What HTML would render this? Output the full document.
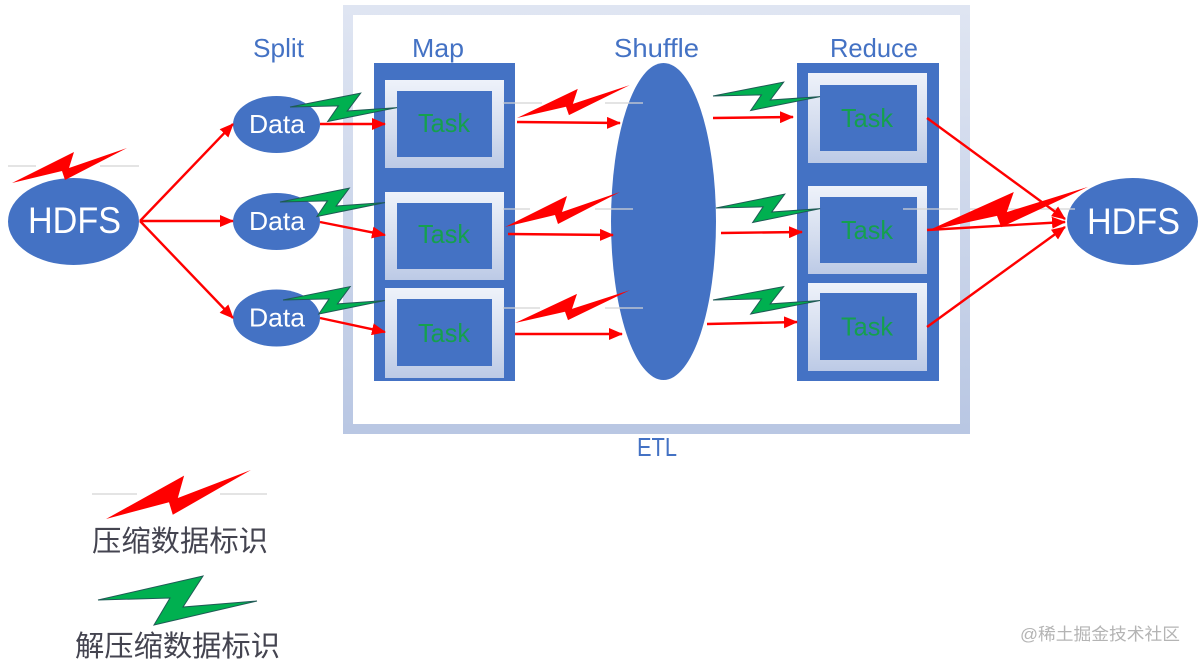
<!DOCTYPE html>
<html><head><meta charset="utf-8"><style>
html,body{margin:0;padding:0;background:#fff;}
svg{display:block;}
</style></head><body>
<svg width="1200" height="664" viewBox="0 0 1200 664" xmlns="http://www.w3.org/2000/svg">
<defs>
<marker id="ah" markerUnits="userSpaceOnUse" markerWidth="14" markerHeight="12" refX="13" refY="6" orient="auto">
<path d="M0,0 L14,6 L0,12 z" fill="#ff0000"/>
</marker>
<linearGradient id="frameG" x1="0" y1="0" x2="0" y2="1">
<stop offset="0" stop-color="#dfe5f2"/><stop offset="1" stop-color="#b9c7e3"/>
</linearGradient>
<linearGradient id="taskG" x1="0" y1="0" x2="0" y2="1">
<stop offset="0" stop-color="#eef2fa"/><stop offset="0.6" stop-color="#d3dcee"/><stop offset="1" stop-color="#bccae6"/>
</linearGradient>
</defs>

<!-- ETL frame -->
<rect x="348" y="10" width="617" height="419" fill="#fff" stroke="url(#frameG)" stroke-width="10"/>

<!-- Map column -->
<rect x="374" y="63" width="141" height="318" fill="#4472c4"/>
<rect x="385" y="80" width="119" height="88" fill="url(#taskG)"/>
<rect x="397" y="91" width="95" height="66" fill="#4472c4"/>
<rect x="385" y="192" width="119" height="88" fill="url(#taskG)"/>
<rect x="397" y="203" width="95" height="66" fill="#4472c4"/>
<rect x="385" y="288" width="119" height="90" fill="url(#taskG)"/>
<rect x="397" y="299" width="95" height="67" fill="#4472c4"/>

<!-- Reduce column -->
<rect x="797" y="63" width="142" height="318" fill="#4472c4"/>
<rect x="808" y="73" width="119" height="90" fill="url(#taskG)"/>
<rect x="820" y="85" width="97" height="66" fill="#4472c4"/>
<rect x="808" y="186" width="119" height="88" fill="url(#taskG)"/>
<rect x="820" y="197" width="97" height="66" fill="#4472c4"/>
<rect x="808" y="283" width="119" height="88" fill="url(#taskG)"/>
<rect x="820" y="293" width="97" height="67" fill="#4472c4"/>

<!-- Shuffle ellipse -->
<ellipse cx="663.5" cy="221.5" rx="52.5" ry="158.5" fill="#4472c4"/>

<!-- HDFS + Data ellipses -->
<ellipse cx="73.5" cy="221.5" rx="65.5" ry="43.5" fill="#4472c4"/>
<ellipse cx="1132.5" cy="221.5" rx="65.5" ry="43.5" fill="#4472c4"/>
<ellipse cx="276.5" cy="124.5" rx="43.5" ry="28.5" fill="#4472c4"/>
<ellipse cx="276.5" cy="221.5" rx="43.5" ry="28.5" fill="#4472c4"/>
<ellipse cx="276.5" cy="318" rx="43.5" ry="28.5" fill="#4472c4"/>

<!-- faint gray lines -->
<g stroke="#d4d4d4" stroke-width="1.2">
<line x1="8" y1="166" x2="36" y2="166"/><line x1="100" y1="166" x2="139" y2="166"/>
<line x1="503" y1="103" x2="542" y2="103"/><line x1="605" y1="103" x2="643" y2="103"/>
<line x1="503" y1="209" x2="530" y2="209"/><line x1="595" y1="209" x2="633" y2="209"/>
<line x1="503" y1="308" x2="540" y2="308"/><line x1="605" y1="308" x2="643" y2="308"/>
<line x1="903" y1="209" x2="958" y2="209"/><line x1="970" y1="209" x2="1075" y2="209"/>
<line x1="92" y1="494" x2="137" y2="494"/><line x1="220" y1="494" x2="267" y2="494"/>
</g>

<!-- red arrows -->
<g stroke="#ff0000" stroke-width="2.4" fill="none" marker-end="url(#ah)">
<line x1="140" y1="221" x2="233" y2="124"/>
<line x1="140" y1="221" x2="233" y2="221"/>
<line x1="140" y1="221" x2="233" y2="318"/>
<line x1="320" y1="124" x2="385" y2="124"/>
<line x1="320" y1="222" x2="385" y2="235"/>
<line x1="320" y1="318" x2="385" y2="332"/>
<line x1="517" y1="122" x2="620" y2="123"/>
<line x1="508" y1="234" x2="613" y2="235"/>
<line x1="515" y1="334" x2="622" y2="334"/>
<line x1="713" y1="118" x2="793" y2="117"/>
<line x1="721" y1="233" x2="802" y2="232"/>
<line x1="707" y1="324" x2="797" y2="322"/>
<line x1="927" y1="118" x2="1065" y2="219"/>
<line x1="927" y1="230" x2="1065" y2="222"/>
<line x1="927" y1="327" x2="1065" y2="227"/>
</g>

<!-- red bolts -->
<g fill="#ff0000">
<polygon transform="translate(12,183)" points="0,0 62,-31 57,-15 115,-35 53,-3 50,-12"/>
<polygon transform="translate(517,118) scale(0.98,0.94)" points="0,0 62,-31 57,-15 115,-35 53,-3 50,-12"/>
<polygon transform="translate(505,227)" points="0,0 62,-31 57,-15 115,-35 53,-3 50,-12"/>
<polygon transform="translate(515,323) scale(1,0.94)" points="0,0 62,-31 57,-15 115,-35 53,-3 50,-12"/>
<polygon transform="translate(927,231) scale(1.4,1.26)" points="0,0 62,-31 57,-15 115,-35 53,-3 50,-12"/>
<polygon transform="translate(106,519) scale(1.26,1.4)" points="0,0 62,-31 57,-15 115,-35 53,-3 50,-12"/>
</g>

<!-- green bolts -->
<g fill="#00b050" stroke="#1f5a55" stroke-width="1" vector-effect="non-scaling-stroke">
<polygon vector-effect="non-scaling-stroke" transform="translate(290,107) scale(0.673,0.58)" points="0,0 105,-24 85,7 159,1 56,25 72,-2"/>
<polygon vector-effect="non-scaling-stroke" transform="translate(280,202) scale(0.66,0.58)" points="0,0 105,-24 85,7 159,1 56,25 72,-2"/>
<polygon vector-effect="non-scaling-stroke" transform="translate(283,300) scale(0.64,0.56)" points="0,0 105,-24 85,7 159,1 56,25 72,-2"/>
<polygon vector-effect="non-scaling-stroke" transform="translate(713,96) scale(0.673,0.58)" points="0,0 105,-24 85,7 159,1 56,25 72,-2"/>
<polygon vector-effect="non-scaling-stroke" transform="translate(716,208) scale(0.655,0.58)" points="0,0 105,-24 85,7 159,1 56,25 72,-2"/>
<polygon vector-effect="non-scaling-stroke" transform="translate(713,300) scale(0.673,0.56)" points="0,0 105,-24 85,7 159,1 56,25 72,-2"/>
<polygon vector-effect="non-scaling-stroke" transform="translate(98,600)" points="0,0 105,-24 85,7 159,1 56,25 72,-2"/>
</g>

<!-- labels -->
<g font-family="'Liberation Sans', sans-serif" fill="#4472c4" font-size="26">
<text x="253" y="57" textLength="51" lengthAdjust="spacingAndGlyphs">Split</text>
<text x="412" y="57" textLength="52" lengthAdjust="spacingAndGlyphs">Map</text>
<text x="614" y="57" textLength="85" lengthAdjust="spacingAndGlyphs">Shuffle</text>
<text x="830" y="57" textLength="88" lengthAdjust="spacingAndGlyphs">Reduce</text>
<text x="637" y="456" textLength="40" lengthAdjust="spacingAndGlyphs">ETL</text>
</g>
<g font-family="'Liberation Sans', sans-serif" fill="#ffffff">
<text x="28" y="233" font-size="37" textLength="93" lengthAdjust="spacingAndGlyphs">HDFS</text>
<text x="1087" y="234" font-size="37" textLength="93" lengthAdjust="spacingAndGlyphs">HDFS</text>
<text x="249" y="133" font-size="26" textLength="56" lengthAdjust="spacingAndGlyphs">Data</text>
<text x="249" y="230" font-size="26" textLength="56" lengthAdjust="spacingAndGlyphs">Data</text>
<text x="249" y="326.5" font-size="26" textLength="56" lengthAdjust="spacingAndGlyphs">Data</text>
</g>
<g font-family="'Liberation Sans', sans-serif" fill="#15a04e" font-size="26">
<text x="418" y="132" textLength="52" lengthAdjust="spacingAndGlyphs">Task</text>
<text x="418" y="243" textLength="52" lengthAdjust="spacingAndGlyphs">Task</text>
<text x="418" y="342" textLength="52" lengthAdjust="spacingAndGlyphs">Task</text>
<text x="841" y="127" textLength="52" lengthAdjust="spacingAndGlyphs">Task</text>
<text x="841" y="239" textLength="52" lengthAdjust="spacingAndGlyphs">Task</text>
<text x="841" y="335.5" textLength="52" lengthAdjust="spacingAndGlyphs">Task</text>
</g>
<g font-family="'Liberation Sans', 'Noto Sans CJK SC', sans-serif" fill="#444450">
<text x="92" y="551" font-size="29" textLength="176" lengthAdjust="spacingAndGlyphs">压缩数据标识</text>
<text x="75" y="656" font-size="29" textLength="205" lengthAdjust="spacingAndGlyphs">解压缩数据标识</text>
</g>
<text x="1020" y="640" font-family="'Liberation Sans', 'Noto Sans CJK SC', sans-serif" font-size="17" fill="#b4b4b4" textLength="160" lengthAdjust="spacingAndGlyphs">@稀土掘金技术社区</text>
</svg>
</body></html>
